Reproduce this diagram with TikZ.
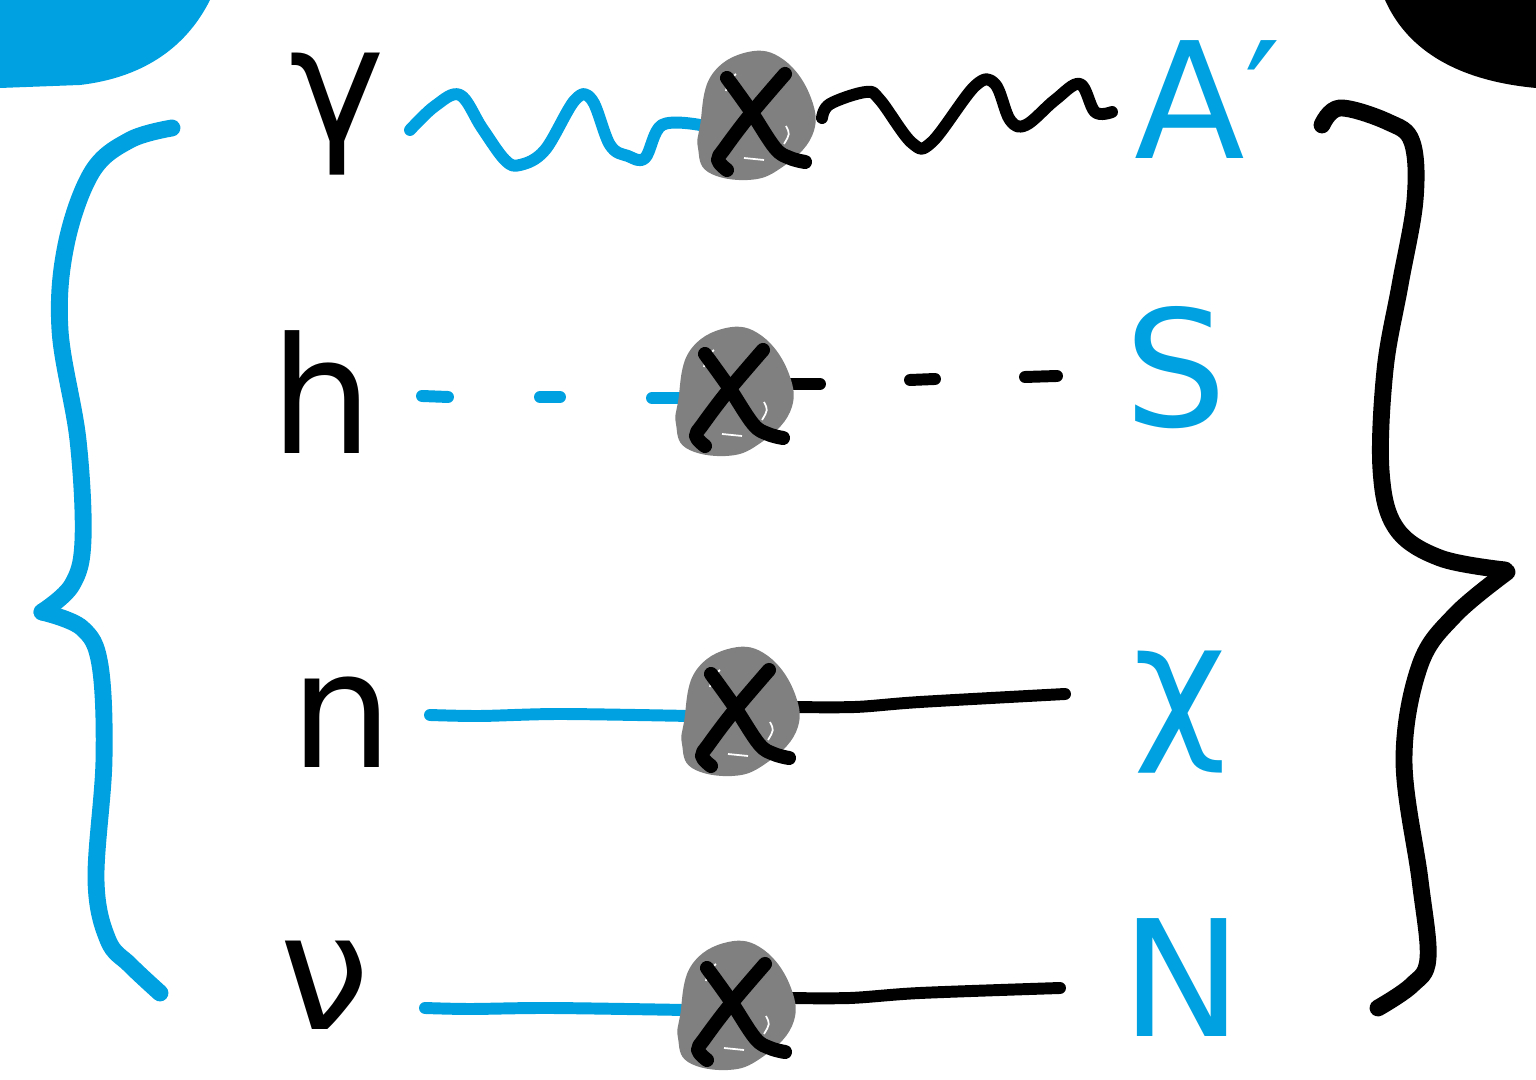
\documentclass[tikz,border=0pt]{standalone}
\usepackage{fontspec}
\setmainfont{DejaVu Sans}
\definecolor{hblue}{RGB}{0,161,224}
\definecolor{blobgray}{RGB}{128,128,128}
\tikzset{
  brace/.style={line width=4.8pt, line cap=round, line join=round},
  prop/.style={line width=3.4pt, line cap=round, line join=round},
  dashseg/.style={line width=3.4pt, line cap=round},
  xstroke/.style={black, line width=4pt, line cap=round, line join=round},
  lbl/.style={font=\fontsize{46}{54}\selectfont, inner sep=0pt},
}
\newcommand{\vertexblob}[2]{%
  \begin{scope}[shift={(#1,#2)}]
    \fill[blobgray] plot[smooth cycle, tension=0.7] coordinates {(-56,10) (-45,-40) (-8,-64) (28,-56) (55,-18) (56,20) (25,52) (-8,64) (-48,56) (-58,32)};
    \draw[white, line width=0.5pt] (-30,-25) .. controls (-28,-35) .. (-20,-42);
    \draw[white, line width=0.5pt] (-12,42) -- (8,44);
    \draw[white, line width=0.5pt] (30,10) .. controls (34,18) .. (28,28);
    \draw[xstroke] plot[smooth, tension=0.6] coordinates {(-29,-38) (-6,-6) (19,32) (34,42) (49,46)};
    \draw[xstroke] plot[smooth, tension=0.6] coordinates {(29,-42) (-6,-1) (-31,32) (-38,44) (-29,54)};
  \end{scope}}
\begin{document}
\begin{tikzpicture}[x=0.01cm, y=-0.01cm]
\useasboundingbox (0,0) rectangle (1536,1080);
% corner blobs
\fill[hblue] (0,0) -- (210,0) .. controls (185,50) and (140,78) .. (80,85) -- (0,88) -- cycle;
\fill[black] (1536,0) -- (1385,0) .. controls (1405,45) and (1450,80) .. (1536,88) -- cycle;
% left brace
\draw[brace, hblue] plot[smooth, tension=0.6] coordinates {(172,128) (130,140) (92,172) (66,245) (60,330) (78,440) (83,540) (72,585) (42,612)};
\draw[brace, hblue] plot[smooth, tension=0.6] coordinates {(42,612) (82,628) (100,665) (104,760) (96,880) (108,940) (130,965) (160,993)};
% right brace
\draw[brace, black] plot[smooth, tension=0.6] coordinates {(1322,125) (1340,108) (1388,122) (1412,142) (1415,200) (1400,285) (1385,370) (1381,470) (1396,528) (1440,558) (1505,570)};
\draw[brace, black] plot[smooth, tension=0.6] coordinates {(1507,572) (1455,615) (1420,665) (1404,760) (1420,880) (1428,958) (1412,985) (1378,1008)};
% labels left
\node[lbl] (gam) at (337,114) {γ};
\node[lbl] (hig) at (322,392) {h};
\node[lbl] (neu) at (342,722) {n};
\node[lbl] (nu) at (325,985) {ν};
% labels right
\node[lbl, text=hblue] (ap) at (1208,100) {A′};
\node[lbl, text=hblue] (sc) at (1176,368) {S};
\node[lbl, text=hblue] (chi) at (1180,712) {χ};
\node[lbl, text=hblue] (nn) at (1182,978) {N};
% row 1 photon lines
\draw[prop, hblue] plot[smooth, tension=0.6] coordinates {(410,130) (435,106) (460,95) (482,128) (505,160) (520,165) (545,150) (575,100) (592,100) (610,145) (628,156) (645,158) (662,125) (700,125)};
\draw[prop, black] plot[smooth, tension=0.6] coordinates {(822,118) (830,104) (866,92) (880,100) (912,143) (932,142) (975,86) (995,84) (1010,120) (1026,125) (1055,100) (1080,84) (1095,112) (1112,112)};
% row 2 dashes
\draw[dashseg, hblue] (422,396) -- (448,397) (540,397) -- (560,397) (652,398) -- (682,398);
\draw[dashseg, black] (785,384) -- (820,384) (910,380) -- (935,379) (1025,377) -- (1057,376);
% row 3, 4 lines
\draw[prop, hblue] plot[smooth, tension=0.5] coordinates {(430,715) (480,716) (560,714) (690,716)};
\draw[prop, black] plot[smooth, tension=0.5] coordinates {(790,707) (855,707) (920,702) (1065,694)};
\draw[prop, hblue] plot[smooth, tension=0.5] coordinates {(425,1008) (470,1009) (550,1008) (685,1010)};
\draw[prop, black] plot[smooth, tension=0.5] coordinates {(785,998) (850,998) (920,993) (1060,988)};
% vertices
\vertexblob{756}{116}
\vertexblob{734}{392}
\vertexblob{740}{712}
\vertexblob{736}{1006}
\end{tikzpicture}
\end{document}
